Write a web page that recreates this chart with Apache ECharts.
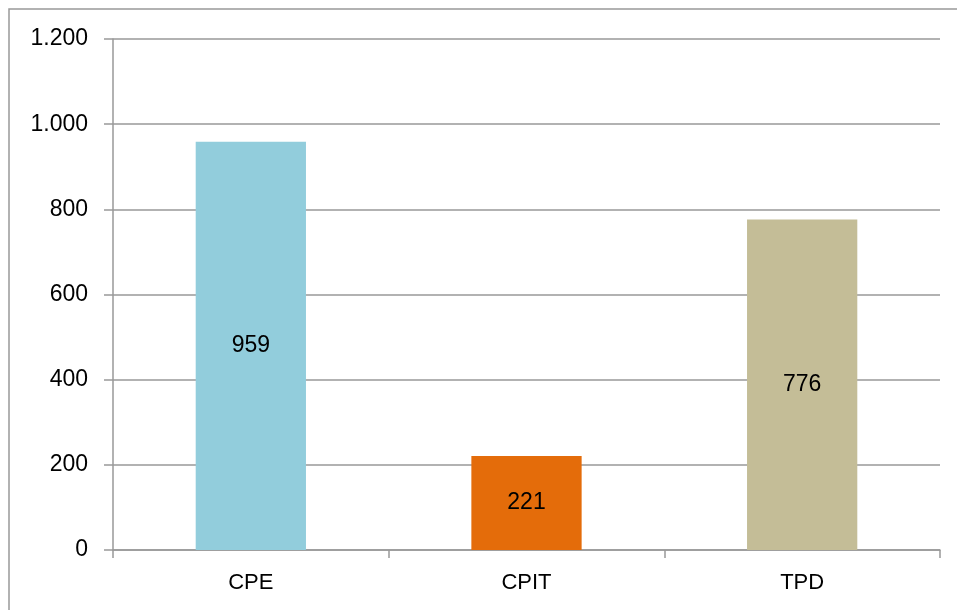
<!DOCTYPE html>
<html>
<head>
<meta charset="utf-8">
<script src="https://cdn.jsdelivr.net/npm/echarts@6/dist/echarts.min.js"></script>
<style>
html,body{margin:0;padding:0;background:#fff;}
#chart{width:957px;height:610px;}
</style>
</head>
<body>
<div id="chart"></div>
<script>
const categories = ['CPE', 'CPIT', 'TPD'];
const values = [959, 221, 776];
const barColors = ['#92CDDC', '#E46C0A', '#C4BD97'];
const yTicks = [0, 200, 400, 600, 800, 1000, 1200];

function fmt(v) {
  return String(v).replace(/\B(?=(\d{3})+(?!\d))/g, '.');
}

const chart = echarts.init(document.getElementById('chart'), null, {renderer: 'canvas'});
const font = 'Liberation Sans';
chart.setOption({
  animation: false,
  backgroundColor: '#fff',
  graphic: [{
    type: 'rect',
    shape: {x: 9, y: 9, width: 1100, height: 1100},
    style: {fill: 'none', stroke: '#999', lineWidth: 1.5},
    silent: true
  }],
  grid: {left: 113, right: 17, top: 39, bottom: 60, containLabel: false},
  xAxis: {
    type: 'category',
    data: categories,
    axisLine: {show: true, lineStyle: {color: '#999', width: 1.5}},
    axisTick: {show: true, length: 8, alignWithLabel: false, lineStyle: {color: '#999', width: 1.5}},
    axisLabel: {color: '#000', fontFamily: font, fontSize: 22, margin: 22},
    splitLine: {show: false}
  },
  yAxis: {
    type: 'value',
    min: yTicks[0],
    max: yTicks[yTicks.length - 1],
    interval: 200,
    axisLine: {show: true, lineStyle: {color: '#999', width: 1.5}},
    axisTick: {show: true, length: 9, inside: false, lineStyle: {color: '#999', width: 1.5}},
    axisLabel: {color: '#000', fontFamily: font, fontSize: 23, margin: 25, formatter: v => fmt(v)},
    splitLine: {show: true, lineStyle: {color: '#999', width: 1.5}}
  },
  series: [{
    type: 'bar',
    barWidth: '40%',
    data: values.map((v, i) => ({value: v, itemStyle: {color: barColors[i]}})),
    label: {
      show: true,
      position: 'inside',
      color: '#000',
      fontFamily: font,
      fontSize: 23,
      formatter: p => fmt(p.value)
    }
  }]
});
</script>
</body>
</html>
